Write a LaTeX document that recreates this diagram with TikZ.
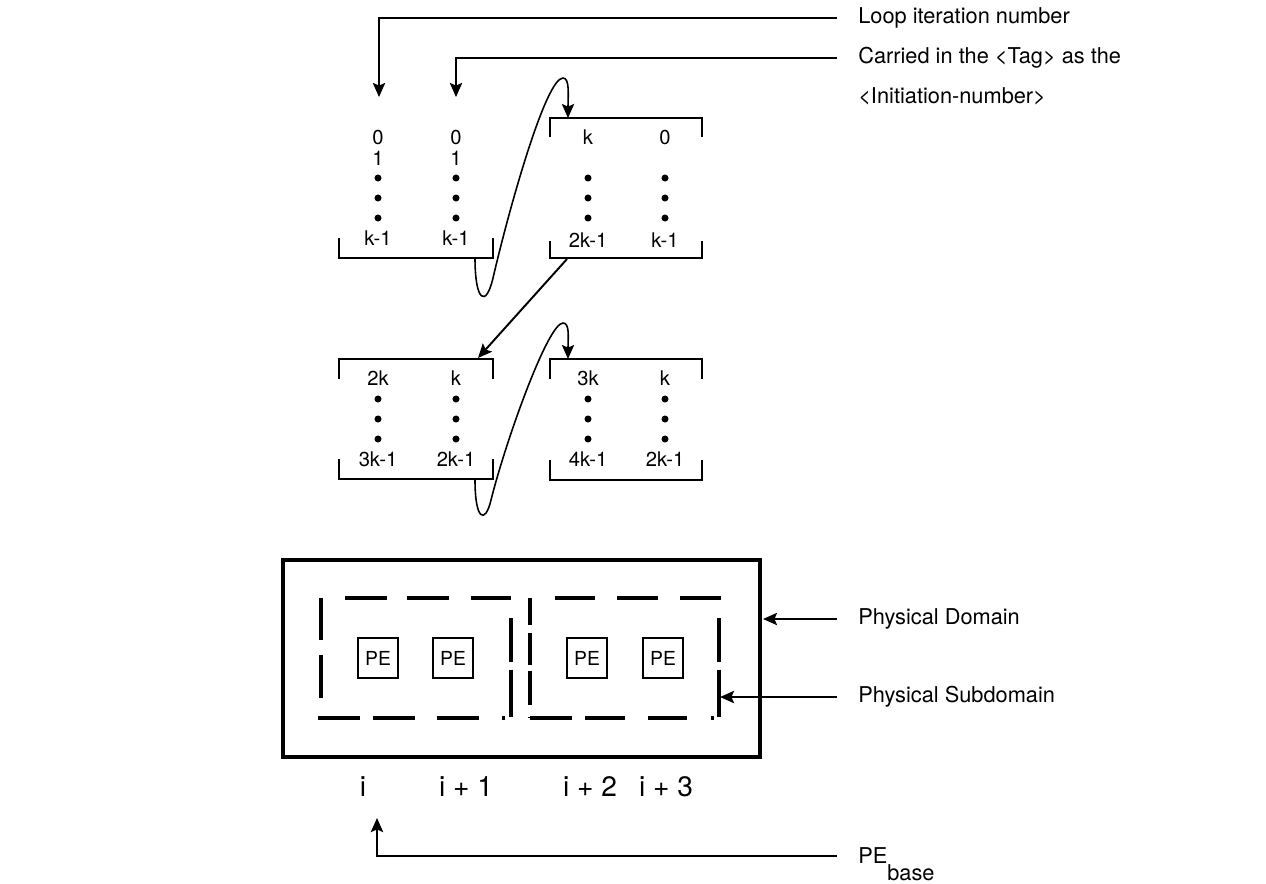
\documentclass[tikz,border=0pt]{standalone}
\usepackage{fontspec}
\setmainfont{TeX Gyre Heros}
\usetikzlibrary{arrows.meta, positioning, calc}

\begin{document}
\begin{tikzpicture}[
x=0.02cm, y=-0.02cm,
    num/.style={inner sep=1pt, font=\fontsize{11.5}{13}\selectfont},
    lbl/.style={anchor=west, inner xsep=11.9pt, inner ysep=1pt, font=\fontsize{12.4}{15}\selectfont},
    idx/.style={inner sep=1pt, font=\fontsize{16}{19}\selectfont},
    pe/.style={rectangle, draw, line width=0.9pt, minimum width=22.5pt, minimum height=23pt, inner sep=0pt, font=\fontsize{11}{13}\selectfont},
    arr/.style={-{Stealth[length=8pt, width=7pt, inset=1.5pt]}, line width=1.1pt},
    curvearr/.style={-{Stealth[length=8pt, width=7pt, inset=1.5pt]}, line width=0.9pt},
    bracket/.style={line width=1.1pt},
    dom/.style={line width=2.8pt},
    subdom/.style={line width=1.8pt}
]
    \useasboundingbox (0,0) rectangle (1266,883);

    % ================= LABELS (TOP) =================
    \node[lbl] (loop) at (837,18) {Loop iteration number};
    \node[lbl] (tag) at (837,58) {Carried in the <Tag> as the};
    \node[lbl] (init) at (837,96) {<Initiation-number>};

    \coordinate (tipA) at (379,97);
    \coordinate (tipB) at (456,97);
    \draw[arr] (loop.west) -| (tipA);
    \draw[arr] (tag.west) -| (tipB);

    % ================= BLOCKS =================

    % Block A (row 1, left)
    \node[num] (A1_0) at (378,137) {0};
    \node[num] (A1_1) at (378,158) {1};
    \node[num] (A1_k) at (378,238) {k-1};
    \node[num] (A2_0) at (456,137) {0};
    \node[num] (A2_1) at (456,158) {1};
    \node[num] (A2_k) at (456,238) {k-1};
    \fill (378,178) circle[radius=2pt] (378,198) circle[radius=2pt] (378,218) circle[radius=2pt];
    \fill (456,178) circle[radius=2pt] (456,198) circle[radius=2pt] (456,218) circle[radius=2pt];
    \draw[bracket] (339,238) -- (339,258) -- (493,258) -- (493,238);

    % Block B (row 1, right)
    \node[num] (B1_top) at (588,137) {k};
    \node[num] (B1_bot) at (588,240) {2k-1};
    \node[num] (B2_top) at (665,137) {0};
    \node[num] (B2_bot) at (665,240) {k-1};
    \fill (588,178) circle[radius=2pt] (588,198) circle[radius=2pt] (588,218) circle[radius=2pt];
    \fill (665,178) circle[radius=2pt] (665,198) circle[radius=2pt] (665,218) circle[radius=2pt];
    \draw[bracket] (550,137) -- (550,118) -- (702,118) -- (702,137);
    \draw[bracket] (550,241) -- (550,258) -- (702,258) -- (702,241);

    % Block C (row 2, left)
    \node[num] (C1_top) at (378,378) {2k};
    \node[num] (C1_bot) at (378,459) {3k-1};
    \node[num] (C2_top) at (456,378) {k};
    \node[num] (C2_bot) at (456,459) {2k-1};
    \fill (378,399) circle[radius=2pt] (378,419) circle[radius=2pt] (378,439) circle[radius=2pt];
    \fill (456,399) circle[radius=2pt] (456,419) circle[radius=2pt] (456,439) circle[radius=2pt];
    \draw[bracket] (339,379) -- (339,359) -- (493,359) -- (493,379);
    \draw[bracket] (339,459) -- (339,479) -- (493,479) -- (493,459);

    % Block D (row 2, right)
    \node[num] (D1_top) at (588,378) {3k};
    \node[num] (D1_bot) at (588,459) {4k-1};
    \node[num] (D2_top) at (665,378) {k};
    \node[num] (D2_bot) at (665,459) {2k-1};
    \fill (588,399) circle[radius=2pt] (588,419) circle[radius=2pt] (588,439) circle[radius=2pt];
    \fill (665,399) circle[radius=2pt] (665,419) circle[radius=2pt] (665,439) circle[radius=2pt];
    \draw[bracket] (550,379) -- (550,359) -- (702,359) -- (702,379);
    \draw[bracket] (550,460) -- (550,480) -- (702,480) -- (702,460);

    % ================= HAND-OVERS =================
    \coordinate (A_out) at (475,258);
    \coordinate (B_in) at (568,118);
    \coordinate (B_out) at (567,259);
    \coordinate (C_in) at (478,358);
    \coordinate (C_out) at (475,480);
    \coordinate (D_in) at (568,359);

    \draw[curvearr] (A_out) .. controls (475,302) and (486,308) .. (493,278)
        .. controls (510,205) and (546,78) .. (563,78)
        .. controls (570,78) and (568,96) .. (B_in);
    \draw[arr] (B_out) -- (C_in);
    \draw[curvearr] (C_out) .. controls (475,520) and (485,525) .. (491,500)
        .. controls (506,440) and (548,323) .. (563,323)
        .. controls (570,323) and (568,338) .. (D_in);

    % ================= DOMAIN =================
    \draw[dom] (283,560) rectangle (760,757);

    % left subdomain
    \draw[subdom, dash pattern=on 0pt off 13.6pt on 23.8pt off 11.3pt on 24.4pt off 12.5pt on 22.7pt off 10pt] (321,598) -- (512,598);
    \draw[subdom, dash pattern=on 23.8pt off 8.5pt on 24.4pt off 11.3pt] (321,598) -- (321,718);
    \draw[subdom, dash pattern=on 0pt off 11.3pt on 24.9pt off 4.5pt on 27.2pt off 10pt] (511,598) -- (511,718);
    \draw[subdom, dash pattern=on 23.8pt off 7.4pt on 23.8pt off 12.5pt on 24.4pt off 13pt on 1.7pt off 20pt] (318,718) -- (511,718);

    % right subdomain
    \draw[subdom, dash pattern=on 0pt off 14.2pt on 22.7pt off 12.5pt on 23.2pt off 12.5pt on 23.8pt off 10pt] (530,598) -- (722,598);
    \draw[subdom, dash pattern=on 15.3pt off 4.5pt on 18.1pt off 3.4pt on 19.8pt off 6.8pt] (530,598) -- (530,718);
    \draw[subdom, dash pattern=on 0pt off 11.3pt on 24.9pt off 4.5pt on 27.2pt off 10pt] (719,598) -- (719,718);
    \draw[subdom, dash pattern=on 23.8pt off 7.4pt on 22.7pt off 13pt on 22.7pt off 13.6pt on 1.7pt off 20pt] (530,718) -- (720,718);

    \node[pe] (pe1) at (378,658) {PE};
    \node[pe] (pe2) at (453,658) {PE};
    \node[pe] (pe3) at (587,658) {PE};
    \node[pe] (pe4) at (663,658) {PE};

    \node[lbl] (domLbl) at (837,619) {Physical Domain};
    \node[lbl] (subLbl) at (837,697) {Physical Subdomain};
    \coordinate (domTip) at (763,619);
    \coordinate (subTip) at (720,697);
    \draw[arr] (domLbl.west) -- (domTip);
    \draw[arr] (subLbl.west) -- (subTip);

    % ================= INDICES =================
    \node[idx] (i0) at (363,787) {i};
    \node[idx] (i1) at (466,787) {i + 1};
    \node[idx] (i2) at (590,787) {i + 2};
    \node[idx] (i3) at (666,787) {i + 3};

    \node[lbl, anchor=base west] (pebase) at (837,863) {PE\raisebox{-0.78em}{base}};
    \coordinate (baseEnd) at (837,856);
    \coordinate (baseTip) at (377,818);
    \draw[arr] (baseEnd) -| (baseTip);

\end{tikzpicture}
\end{document}
